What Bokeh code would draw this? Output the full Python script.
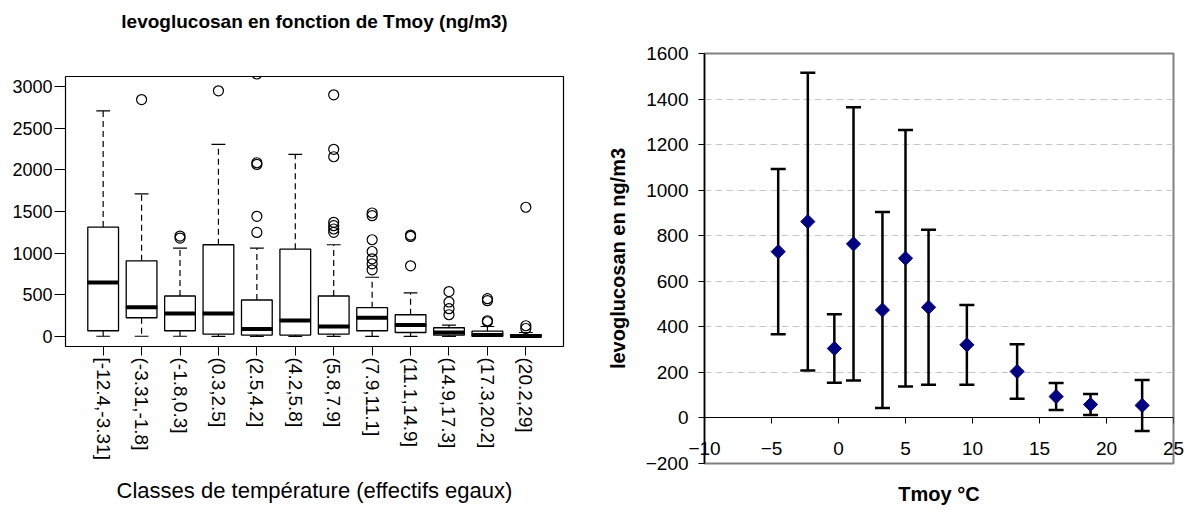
import numpy as np
from bokeh.plotting import figure
from bokeh.models import (ColumnDataSource, FactorRange, Range1d, FixedTicker,
                          Whisker, TeeHead, Title, LinearAxis)
from bokeh.layouts import row
from bokeh.embed import file_html
from bokeh.resources import INLINE

FONT = "Liberation Sans"

# ---------------- Left chart data (boxplot) ----------------
classes = ["[-12.4,-3.31]", "(-3.31,-1.8]", "(-1.8,0.3]", "(0.3,2.5]", "(2.5,4.2]",
           "(4.2,5.8]", "(5.8,7.9]", "(7.9,11.1]", "(11.1,14.9]", "(14.9,17.3]",
           "(17.3,20.2]", "(20.2,29]"]
whisk_lo = [3, 3, 3, 2, 2, 2, 2, 2, 2, 2, 1, 0]
q1 = [69, 225, 69, 29, 17, 17, 29, 69, 48, 17, 5, 0]
median = [647, 350, 277, 277, 89, 193, 120, 225, 137, 48, 17, 5]
q3 = [1313, 908, 486, 1101, 438, 1048, 486, 346, 261, 105, 65, 20]
whisk_hi = [2707, 1711, 1060, 2306, 1060, 2185, 1101, 711, 523, 137, 120, 48]

out_cls = ["(-3.31,-1.8]",
           "(-1.8,0.3]", "(-1.8,0.3]",
           "(0.3,2.5]",
           "(2.5,4.2]", "(2.5,4.2]", "(2.5,4.2]", "(2.5,4.2]", "(2.5,4.2]",
           "(5.8,7.9]", "(5.8,7.9]", "(5.8,7.9]", "(5.8,7.9]", "(5.8,7.9]", "(5.8,7.9]", "(5.8,7.9]",
           "(7.9,11.1]", "(7.9,11.1]", "(7.9,11.1]", "(7.9,11.1]", "(7.9,11.1]", "(7.9,11.1]", "(7.9,11.1]",
           "(11.1,14.9]", "(11.1,14.9]", "(11.1,14.9]",
           "(14.9,17.3]", "(14.9,17.3]", "(14.9,17.3]", "(14.9,17.3]",
           "(17.3,20.2]", "(17.3,20.2]", "(17.3,20.2]", "(17.3,20.2]",
           "(20.2,29]", "(20.2,29]", "(20.2,29]"]
out_val = [2843,
           1205, 1181,
           2948,
           3150, 2085, 2065, 1442, 1249,
           2900, 2246, 2157, 1370, 1330, 1290, 1250,
           1482, 1450, 1161, 1020, 932, 872, 800,
           1217, 1201, 848,
           539, 414, 334, 261,
           454, 430, 189, 177,
           1551, 129, 96]
left_yticks = [0, 500, 1000, 1500, 2000, 2500, 3000]
left_title = "levoglucosan en fonction de Tmoy (ng/m3)"

# ---------------- Right chart data (mean +/- sd) ----------------
tmoy = [-4.5, -2.29, -0.31, 1.12, 3.28, 5.0, 6.72, 9.58, 13.33, 16.24, 18.81, 22.66]
mean_levo = [730, 862, 305, 764, 474, 701, 486, 321, 204, 94, 59, 55]
sd_levo = [363, 654, 150, 600, 430, 563, 340, 175, 120, 59, 46, 112]
right_xticks = [-10, -5, 0, 5, 10, 15, 20, 25]
right_yticks = [-200, 0, 200, 400, 600, 800, 1000, 1200, 1400, 1600]

# ================= Left figure =================
left = figure(width=590, height=510, title=None,
              x_range=FactorRange(factors=classes, range_padding=0.48,
                                  range_padding_units="absolute"),
              y_range=Range1d(-120, 3120),
              output_backend="svg", toolbar_location=None,
              min_border_left=65, min_border_right=27,
              min_border_top=76, min_border_bottom=164)
left.frame_align = False

# spacer (closest to the frame) then the real title above it
left.add_layout(Title(text=" ", text_font=FONT, text_font_size="10px", standoff=32), "above")
left.add_layout(Title(text=left_title, align="center", standoff=0,
                      text_font=FONT, text_font_size="19px",
                      text_font_style="bold", text_color="black"), "above")

bsrc = ColumnDataSource(dict(cls=classes, lo=whisk_lo, q1=q1, med=median, q3=q3, hi=whisk_hi))
left.segment(x0="cls", y0="q3", x1="cls", y1="hi", source=bsrc,
             line_color="black", line_width=1.2, line_dash="6 4")
left.segment(x0="cls", y0="q1", x1="cls", y1="lo", source=bsrc,
             line_color="black", line_width=1.2, line_dash="6 4")
left.vbar(x="cls", width=0.36, top="hi", bottom="hi", source=bsrc,
          fill_color=None, line_color="black", line_width=1.2)
left.vbar(x="cls", width=0.36, top="lo", bottom="lo", source=bsrc,
          fill_color=None, line_color="black", line_width=1.2)
left.vbar(x="cls", width=0.8, top="q3", bottom="q1", source=bsrc,
          fill_color="white", line_color="black", line_width=1.3)
left.rect(x="cls", y="med", width=0.82, height=4, height_units="screen", source=bsrc,
          fill_color="black", line_color=None)
left.scatter(x=out_cls, y=out_val, marker="circle", size=10,
             fill_color=None, line_color="black", line_width=1.2)

left.grid.visible = False
left.outline_line_color = "black"
left.outline_line_width = 1.2
left.outline_line_alpha = 1.0

ya = left.yaxis[0]
ya.ticker = FixedTicker(ticks=left_yticks)
ya.axis_line_color = None
ya.major_tick_out = 11
ya.major_tick_in = 0
ya.minor_tick_line_color = None
ya.major_tick_line_color = "black"
ya.major_label_standoff = 2
ya.major_label_text_font = FONT
ya.major_label_text_font_size = "18px"
ya.major_label_text_color = "black"

xa = left.xaxis[0]
xa.axis_line_color = None
xa.major_tick_out = 9
xa.major_tick_in = 0
xa.major_tick_line_color = "black"
xa.major_label_orientation = "vertical"
xa.major_label_standoff = 2
xa.major_label_text_font = FONT
xa.major_label_text_font_size = "19px"
xa.major_label_text_color = "black"
xa.axis_label = "Classes de température (effectifs egaux)"
xa.axis_label_text_font = FONT
xa.axis_label_text_font_size = "22px"
xa.axis_label_text_font_style = "normal"
xa.axis_label_text_color = "black"
xa.axis_label_standoff = 15

# ================= Right figure =================
right = figure(width=594, height=510,
               x_range=Range1d(-10, 25), y_range=Range1d(-200, 1600),
               output_backend="svg", toolbar_location=None,
               min_border_left=114, min_border_right=11,
               min_border_top=53, min_border_bottom=47)
right.frame_align = False
right.xgrid.visible = False
right.ygrid.grid_line_color = "#c8c8c8"
right.ygrid.grid_line_dash = "7 4"
right.ygrid.grid_line_width = 1
right.outline_line_color = "#808080"
right.outline_line_width = 2
right.outline_line_alpha = 1.0

up = [m + s for m, s in zip(mean_levo, sd_levo)]
lo = [m - s for m, s in zip(mean_levo, sd_levo)]
esrc = ColumnDataSource(dict(x=tmoy, m=mean_levo, up=up, lo=lo))
w = Whisker(source=esrc, base="x", upper="up", lower="lo", dimension="height",
            line_color="black", line_width=2.5, level="underlay",
            upper_head=TeeHead(size=15, line_width=2.5, line_color="black"),
            lower_head=TeeHead(size=15, line_width=2.5, line_color="black"))
right.add_layout(w)
right.scatter("x", "m", source=esrc, marker="square", angle=np.pi / 4, size=10,
              fill_color="#000080", line_color="#000080")

# x axis line and tick marks crossing at y = 0 (Excel style)
rx = right.xaxis[0]
rx.fixed_location = 0
rx.ticker = FixedTicker(ticks=right_xticks)
rx.axis_line_color = "black"
rx.axis_line_width = 1
rx.major_tick_out = 6
rx.major_tick_in = 0
rx.major_tick_line_color = "black"
rx.minor_tick_line_color = None
rx.major_label_text_color = None

# tick labels (drawn just above the bottom of the plot area) and axis title
xt = LinearAxis(ticker=FixedTicker(ticks=right_xticks), axis_line_color=None,
                major_tick_line_color=None, minor_tick_line_color=None,
                major_tick_out=0, minor_tick_out=0, major_tick_in=0, minor_tick_in=0,
                major_label_standoff=-22,
                major_label_text_font=FONT, major_label_text_font_size="19px",
                major_label_text_color="black",
                axis_label="Tmoy °C", axis_label_standoff=25,
                axis_label_text_font=FONT, axis_label_text_font_size="20px",
                axis_label_text_font_style="bold", axis_label_text_color="black")
right.add_layout(xt, "below")

ry = right.yaxis[0]
ry.ticker = FixedTicker(ticks=right_yticks)
ry.axis_line_color = "black"
ry.axis_line_width = 1.5
ry.major_tick_out = 6
ry.major_tick_in = 0
ry.major_tick_line_color = "black"
ry.minor_tick_line_color = None
ry.major_label_standoff = 10
ry.major_label_text_font = FONT
ry.major_label_text_font_size = "19px"
ry.major_label_text_color = "black"
ry.axis_label = "levoglucosan en ng/m3"
ry.axis_label_text_font = FONT
ry.axis_label_text_font_size = "20px"
ry.axis_label_text_font_style = "bold"
ry.axis_label_text_color = "black"
ry.axis_label_standoff = 14

layout = row(left, right)
open("out.html", "w").write(file_html(layout, INLINE))
